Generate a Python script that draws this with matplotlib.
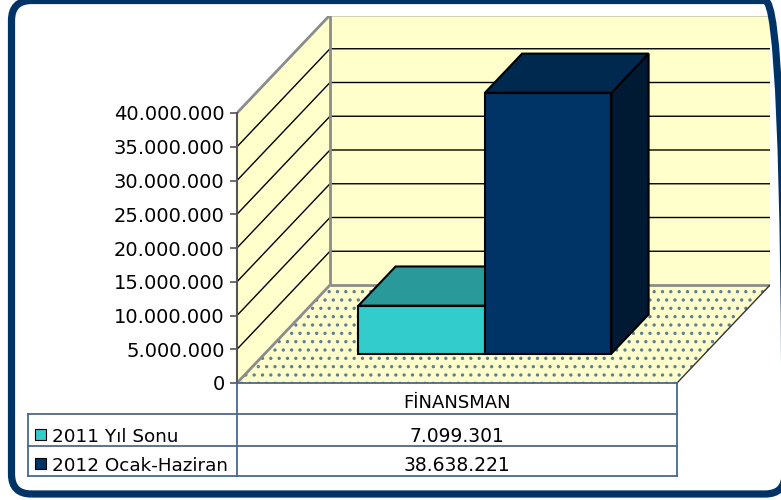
import matplotlib
matplotlib.use("Agg")
import matplotlib.pyplot as plt
import matplotlib.transforms as mtransforms
from matplotlib.patches import Polygon, FancyBboxPatch, Rectangle
from matplotlib.lines import Line2D
from matplotlib.ticker import FuncFormatter

# data
category = "FİNANSMAN"
series = ["2011 Yıl Sonu", "2012 Ocak-Haziran"]
values = [7099301, 38638221]
yticks = [0, 5000000, 10000000, 15000000, 20000000, 25000000, 30000000, 35000000, 40000000]

front_colors = ["#33CCCC", "#003366"]
top_colors = ["#299999", "#00294F"]
side_colors = ["#1F7373", "#011A33"]

plt.rcParams["font.family"] = ["DejaVu Sans"]
plt.rcParams["hatch.linewidth"] = 1.2

W, H = 781, 500
fig = plt.figure(figsize=(W / 100, H / 100), dpi=100)

# pixel layout of the 3-D box (front plane + depth offset)
x0, x1, xb = 237, 677, 770
y0, ytop, yb = 383, 113, 16
ddx, ddy = 93, 98
vmax = yticks[-1]

ax = fig.add_axes([x0 / W, 1 - y0 / H, (xb - x0) / W, (y0 - yb) / H])
px_per_val = (y0 - ytop) / vmax
ax.set_xlim(0, (xb - x0) / (x1 - x0))
ax.set_ylim(0, (y0 - yb) / px_per_val)
DX = ddx / (x1 - x0)
DY = ddy / px_per_val


def P(x, v, d):
    return (x + d * DX, v + d * DY)


wall = "#FFFFCC"
edge_gray = "#8C8C8C"

# walls and floor
ax.add_patch(Polygon([P(0, 0, 0), P(0, vmax, 0), P(0, vmax, 1), P(0, 0, 1)],
                     facecolor=wall, edgecolor="none", zorder=1))
ax.add_patch(Polygon([P(0, 0, 1), P(0, vmax, 1), P(1, vmax, 1), P(1, 0, 1)],
                     facecolor=wall, edgecolor="none", zorder=1))
ax.add_patch(Polygon([P(0, 0, 0), P(1, 0, 0), P(1, 0, 1), P(0, 0, 1)],
                     facecolor=wall, edgecolor="none", zorder=1))
ax.add_patch(Polygon([P(0, 0, 0), P(1, 0, 0), P(1, 0, 1), P(0, 0, 1)],
                     facecolor="none", edgecolor="#5F7F94", hatch="..", lw=0, zorder=1.5))

# gridlines
for v in yticks[1:-1]:
    pts = [P(0, v, 0), P(0, v, 1), P(1, v, 1)]
    ax.plot([p[0] for p in pts], [p[1] for p in pts], color="black", lw=1, zorder=2)

# wall borders
for pts, c in [
    ([P(0, vmax, 0), P(0, vmax, 1), P(1, vmax, 1)], edge_gray),
    ([P(0, 0, 1), P(0, vmax, 1)], edge_gray),
    ([P(0, 0, 1), P(1, 0, 1)], edge_gray),
    ([P(0, 0, 0), P(0, 0, 1)], edge_gray),
    ([P(1, 0, 0), P(1, 0, 1)], "#333333"),
]:
    ax.plot([p[0] for p in pts], [p[1] for p in pts], color=c,
            lw=2 if c == edge_gray else 1, zorder=2.5, solid_capstyle="butt")

# bars
bw = 0.2875
d0, d1 = 0.3, 0.7
lefts = [0.5 - bw, 0.5]
for i, v in enumerate(values):
    xl, xr = lefts[i], lefts[i] + bw
    z = 3 + i
    ax.add_patch(Polygon([P(xr, 0, d0), P(xr, v, d0), P(xr, v, d1), P(xr, 0, d1)],
                         facecolor=side_colors[i], edgecolor="black", lw=1.5, zorder=z, joinstyle="miter"))
    ax.add_patch(Polygon([P(xl, v, d0), P(xl, v, d1), P(xr, v, d1), P(xr, v, d0)],
                         facecolor=top_colors[i], edgecolor="black", lw=1.5, zorder=z, joinstyle="miter"))
    ax.add_patch(Polygon([P(xl, 0, d0), P(xl, v, d0), P(xr, v, d0), P(xr, 0, d0)],
                         facecolor=front_colors[i], edgecolor="black", lw=1.5, zorder=z, joinstyle="miter"))

# value axis
for s in ["top", "right", "bottom"]:
    ax.spines[s].set_visible(False)
ax.spines["left"].set_bounds(0, vmax)
ax.spines["left"].set_color("#555555")
ax.spines["left"].set_linewidth(1.5)
ax.spines["left"].set_zorder(6)
ax.set_yticks(yticks)
ax.yaxis.set_major_formatter(FuncFormatter(lambda v, p: f"{int(v):,}".replace(",", ".")))
ax.tick_params(axis="y", length=5, width=1.2, color="#555555", pad=4, labelsize=14)
ax.set_xticks([])
ax.patch.set_visible(False)

# data table under the chart
tcol = "#4A6791"
def fy(y):
    return 1 - y / H

for xa, xc, y in [(237, 677, 383), (28, 677, 414), (28, 677, 446), (28, 677, 476)]:
    fig.add_artist(Line2D([xa / W, xc / W], [fy(y), fy(y)], color=tcol, lw=1.3))
for x, ya, yc in [(28, 414, 476), (237, 383, 476), (677, 383, 476)]:
    fig.add_artist(Line2D([x / W, x / W], [fy(ya), fy(yc)], color=tcol, lw=1.3))

tr = mtransforms.blended_transform_factory(ax.transData, fig.transFigure)
fig.text(0.5, fy(408.5), category, transform=tr, ha="center", va="baseline", fontsize=13)
row_base = [442, 471]
for i, name in enumerate(series):
    fig.text(0.5, fy(row_base[i]), f"{values[i]:,}".replace(",", "."), transform=tr,
             ha="center", va="baseline", fontsize=13.5)
    fig.text(52 / W, fy(row_base[i]), name, ha="left", va="baseline", fontsize=13.2)
    fig.add_artist(Rectangle((35 / W, fy(row_base[i] - 2)), 11 / W, 11 / H,
                             facecolor=front_colors[i], edgecolor="black", lw=0.8))

# rounded frame, in pixel units
fig.add_artist(FancyBboxPatch((11.5, H - 494), 785 - 11.5, 494 - 0.5,
                              boxstyle="round,pad=0,rounding_size=20",
                              facecolor="none", edgecolor="#003366", lw=5.2,
                              transform=mtransforms.IdentityTransform()))

fig.savefig("out.png", dpi=100)
